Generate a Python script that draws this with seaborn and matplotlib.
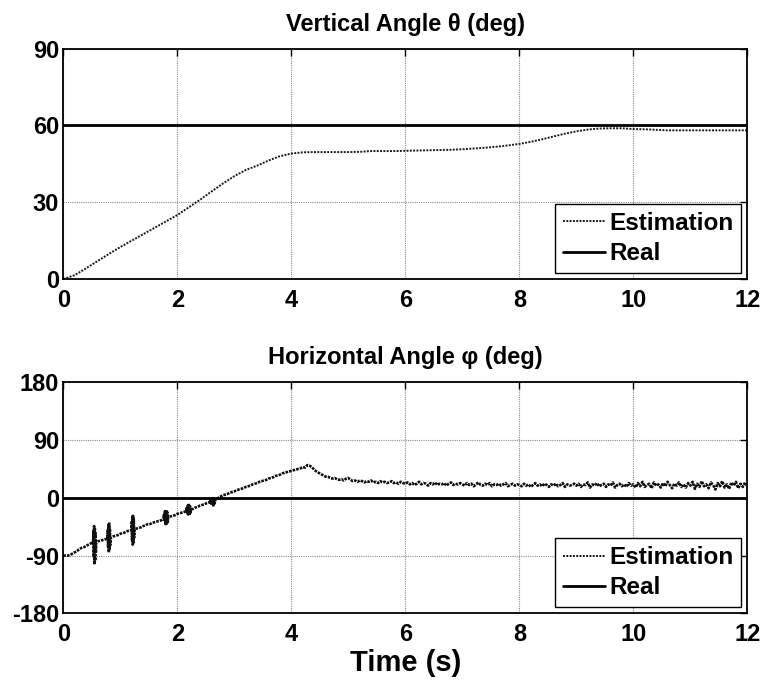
import numpy as np
import pandas as pd
import matplotlib
matplotlib.use("Agg")
import matplotlib.pyplot as plt
import seaborn as sns

# ---- data -------------------------------------------------------------
# vertical angle estimate, sampled every 0.2 s
theta_time = np.round(np.arange(0, 12.0001, 0.2), 2)
theta_est = [
    0.0, 1.5, 4.2, 7.0, 9.8, 12.5, 15.0, 17.5, 20.0, 22.5,
    25.0, 28.0, 31.0, 34.2, 37.3, 40.2, 42.6, 44.3, 46.3, 48.0,
    49.0, 49.5, 49.6, 49.6, 49.6, 49.6, 49.7, 50.0, 50.0, 50.0,
    50.1, 50.2, 50.3, 50.4, 50.5, 50.7, 51.0, 51.3, 51.7, 52.2,
    52.8, 53.6, 54.6, 55.7, 56.8, 57.7, 58.4, 58.8, 58.9, 58.9,
    58.6, 58.5, 58.3, 58.1, 58.1, 58.1, 58.1, 58.1, 58.1, 58.1,
    58.1,
]
theta_real = 60.0

# horizontal angle estimate, sampled every 0.04 s (one row per second)
phi_time = np.round(np.arange(0, 12.0001, 0.04), 2)
phi_est = [
    -90, -90, -90, -89, -87, -85, -83, -80, -78, -77, -75, -73, -71,
    -70, -69, -68, -67, -66, -65, -64, -63, -62, -60, -59, -58,
    -56, -55, -54, -52, -51, -50, -49, -48, -47, -46, -44, -43, -41,
    -41, -39, -38, -37, -36, -35, -32, -31, -30, -29, -28, -27,
    -25, -24, -23, -22, -20, -19, -18, -17, -15, -14, -12, -11, -10,
    -8, -7, -5, -4, -2, 0, 2, 4, 5, 6, 8, 9,
    10, 12, 13, 14, 15, 17, 18, 19, 21, 22, 23, 25, 26,
    27, 28, 30, 31, 32, 34, 35, 36, 38, 39, 40, 41,
    42, 43, 44, 45, 46, 48, 47, 51, 50, 48, 44, 41, 39,
    37, 35, 33, 33, 31, 30, 31, 29, 28, 29, 27, 30,
    31, 28, 26, 27, 25, 27, 26, 24, 26, 25, 27, 24, 25,
    23, 26, 24, 25, 23, 24, 26, 23, 24, 22, 25, 23,
    22, 24, 21, 23, 20, 22, 25, 21, 23, 22, 19, 23, 21,
    24, 20, 22, 21, 23, 19, 22, 24, 20, 22, 21, 23,
    21, 19, 23, 20, 22, 18, 21, 24, 20, 19, 22, 20, 23,
    18, 21, 20, 22, 19, 21, 23, 18, 20, 22, 19, 21,
    20, 18, 22, 19, 21, 17, 20, 23, 19, 21, 18, 22, 20,
    17, 21, 19, 22, 18, 20, 23, 17, 21, 19, 20, 22,
    19, 22, 17, 21, 20, 24, 16, 21, 19, 23, 18, 20, 22,
    17, 21, 19, 24, 16, 20, 22, 18, 21, 17, 23, 19,
    21, 16, 23, 18, 25, 17, 20, 22, 15, 24, 19, 21, 16,
    23, 18, 25, 20, 15, 22, 19, 24, 17, 21, 16, 23,
    19, 25, 14, 22, 17, 26, 18, 21, 15, 24, 20, 13, 23,
    18, 26, 16, 21, 14, 24, 19, 25, 15, 22, 17, 24,
    18,
]
# short oscillation bursts in the horizontal estimate (finer sampling)
burst_time = [
    0.522, 0.528, 0.534, 0.540, 0.546, 0.552, 0.558, 0.564, 0.570, 0.576,
    0.774, 0.780, 0.786, 0.792, 0.798, 0.804, 0.810, 0.816, 0.822, 0.828,
    1.194, 1.200, 1.206, 1.212, 1.218, 1.224, 1.230, 1.236, 1.242, 1.248,
    1.752, 1.762, 1.772, 1.782, 1.792, 1.802, 1.812, 1.822, 1.832, 1.842,
    2.152, 2.162, 2.172, 2.182, 2.192, 2.202, 2.212, 2.222, 2.232, 2.242,
    2.572, 2.582, 2.592, 2.602, 2.612, 2.622, 2.632, 2.642, 2.652, 2.662,
]
burst_est = [
    -70, -52, -92, -44, -104, -46, -98, -55, -86, -70,
    -63, -50, -78, -42, -85, -40, -82, -48, -74, -62,
    -50, -36, -66, -29, -73, -28, -70, -34, -62, -49,
    -33, -27, -37, -21, -41, -19, -42, -22, -38, -30,
    -21, -16, -24, -12, -26, -11, -27, -13, -23, -18,
    -7, -3, -9, 0, -11, 1, -12, -1, -9, -4,
]
phi_real = 0.0

time_ticks = [0, 2, 4, 6, 8, 10, 12]
theta_ticks = [0, 30, 60, 90]
phi_ticks = [-180, -90, 0, 90, 180]

# ---- styling ----------------------------------------------------------
sns.set_theme(style="white")
plt.rcParams["font.family"] = ["Liberation Sans", "DejaVu Sans"]
plt.rcParams["font.weight"] = "bold"
plt.rcParams["axes.unicode_minus"] = False
plt.rcParams["text.color"] = "black"
plt.rcParams["axes.labelcolor"] = "black"
plt.rcParams["xtick.color"] = "black"
plt.rcParams["ytick.color"] = "black"

fig = plt.figure(figsize=(7.64, 6.82), dpi=100)
ax1 = fig.add_axes([0.0829, 0.5909, 0.8953, 0.3377])
ax2 = fig.add_axes([0.0829, 0.1007, 0.8953, 0.3387])


def style_axis(ax, yticks, title):
    ax.set_xlim(0, 12)
    ax.set_ylim(yticks[0], yticks[-1])
    ax.set_xticks(time_ticks)
    ax.set_yticks(yticks)
    ax.grid(True, color="#8c8c8c", linestyle=(0, (1, 1)), lw=0.8)
    for s in ax.spines.values():
        s.set_color("black")
        s.set_linewidth(1.3)
    ax.tick_params(direction="in", length=5, width=1, colors="black",
                   labelsize=17, top=True, right=True)
    ax.tick_params(axis="x", pad=7)
    ax.tick_params(axis="y", pad=3)
    for lbl in ax.get_xticklabels() + ax.get_yticklabels():
        lbl.set_fontweight("bold")
    ax.set_title(title, fontsize=17, fontweight="bold", pad=13, color="black")
    ax.set_xlabel("")
    ax.set_ylabel("")
    leg = ax.legend(loc="lower right", fontsize=17.5, frameon=True,
                    fancybox=False, edgecolor="black", framealpha=1,
                    borderaxespad=0.25, handlelength=1.75, handletextpad=0.16,
                    labelspacing=0.3, borderpad=0.32)
    leg.get_frame().set_linewidth(1.0)
    for t in leg.get_texts():
        t.set_fontweight("bold")
        t.set_color("black")


df_theta = pd.DataFrame({"t": theta_time, "v": theta_est})
sns.lineplot(data=df_theta, x="t", y="v", ax=ax1, label="Estimation",
             color="#1a1a1a", lw=1.4, dashes=(1, 0.7))
ax1.axhline(theta_real, color="black", lw=2, label="Real")
style_axis(ax1, theta_ticks, "Vertical Angle θ (deg)")

df_phi = pd.concat([
    pd.DataFrame({"t": phi_time, "v": phi_est}),
    pd.DataFrame({"t": burst_time, "v": burst_est}),
]).sort_values("t", kind="stable")
sns.lineplot(data=df_phi, x="t", y="v", ax=ax2, label="Estimation",
             sort=False, estimator=None,
             color="#111111", lw=1.9, dashes=(1, 0.4))
ax2.axhline(phi_real, color="black", lw=2, label="Real")
style_axis(ax2, phi_ticks, "Horizontal Angle φ (deg)")
# legend sample keeps the plain dotted look
handle = ax2.get_legend().legend_handles[0]
handle.set_linewidth(1.4)
handle.set_dashes((1, 0.7))
ax2.set_xlabel("Time (s)", fontsize=21, fontweight="bold", labelpad=2,
               color="black")

fig.savefig("out.png", dpi=100, facecolor="white")
